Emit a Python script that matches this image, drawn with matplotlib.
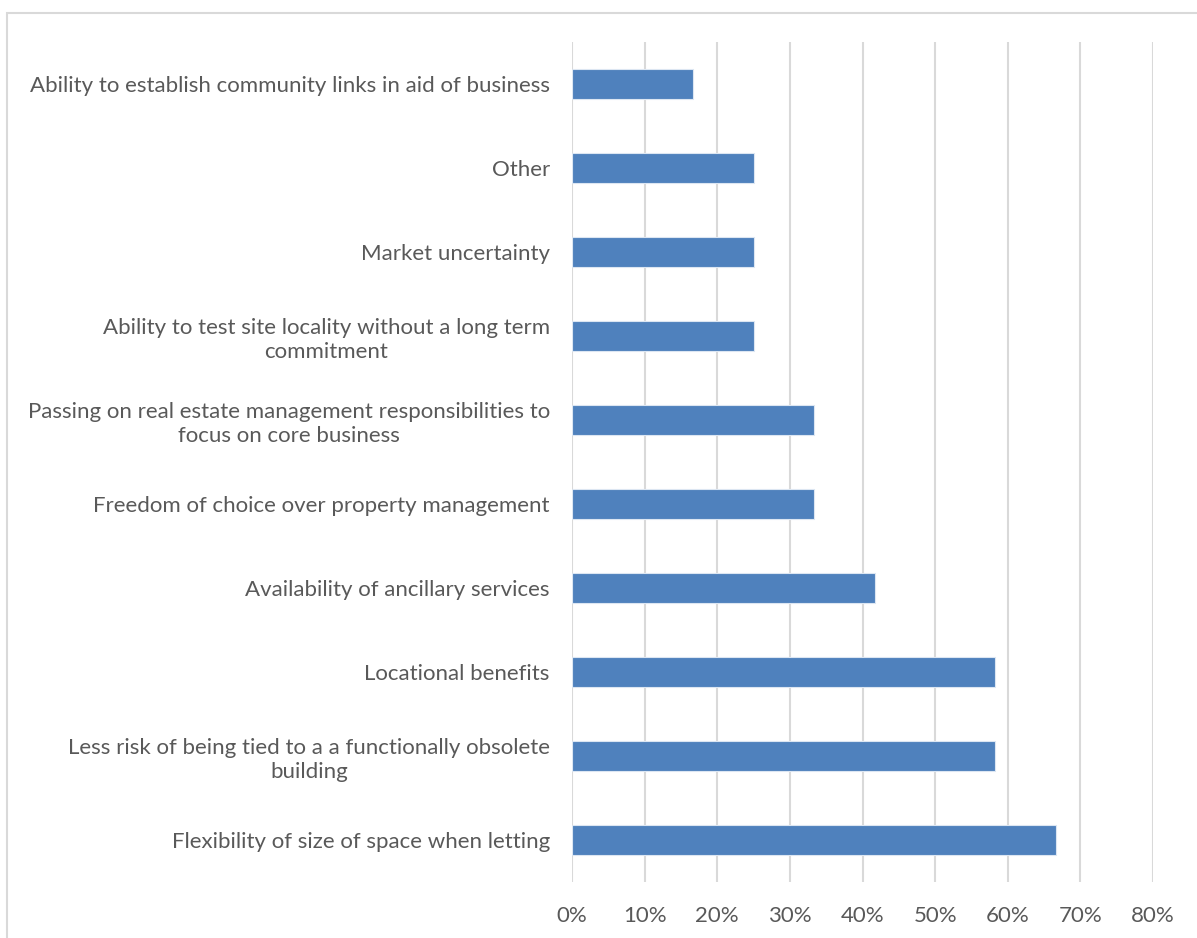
import numpy as np
import matplotlib.pyplot as plt
from matplotlib.patches import Rectangle
from matplotlib.ticker import PercentFormatter

plt.rcParams['font.family'] = ['Lato', 'DejaVu Sans']

# categories from bottom to top
categories = [
    'Flexibility of size of space when letting',
    'Less risk of being tied to a a functionally obsolete\nbuilding',
    'Locational benefits',
    'Availability of ancillary services',
    'Freedom of choice over property management',
    'Passing on real estate management responsibilities to\nfocus on core business',
    'Ability to test site locality without a long term\ncommitment',
    'Market uncertainty',
    'Other',
    'Ability to establish community links in aid of business',
]
shares = [0.667, 0.583, 0.583, 0.417, 0.333, 0.333, 0.25, 0.25, 0.25, 0.167]
xticks = [0, 0.1, 0.2, 0.3, 0.4, 0.5, 0.6, 0.7, 0.8]

grey_text = '#595959'

fig = plt.figure(figsize=(11.97, 9.38), dpi=100)
ax = fig.add_axes([572 / 1197, 1 - 882 / 938, (1153 - 572) / 1197, (882 - 42) / 938])

y = np.arange(len(categories))
ax.barh(y, shares, height=0.36, color='#4F81BD', edgecolor='#DCE6F2', linewidth=0.8, zorder=3)

ax.set_xlim(0, 0.8)
ax.set_ylim(-0.5, len(categories) - 0.5)
ax.set_xticks(xticks)
ax.xaxis.set_major_formatter(PercentFormatter(1.0, decimals=0))
ax.set_yticks(y)
ax.set_yticklabels(categories, multialignment='center', linespacing=1.22)
ax.tick_params(axis='both', length=0, labelsize=16, colors=grey_text)
ax.tick_params(axis='y', pad=16)
ax.tick_params(axis='x', pad=17)
ax.grid(axis='x', color='#D9D9D9', linewidth=1.5, zorder=0)
for s in ax.spines.values():
    s.set_visible(False)

# chart-area border
fig.patches.append(Rectangle((7 / 1197, -0.05), 1.1, 1 - 13 / 938 + 0.05,
                             transform=fig.transFigure, fill=False,
                             edgecolor='#D9D9D9', linewidth=1.5))

fig.savefig('out.png', dpi=100)
